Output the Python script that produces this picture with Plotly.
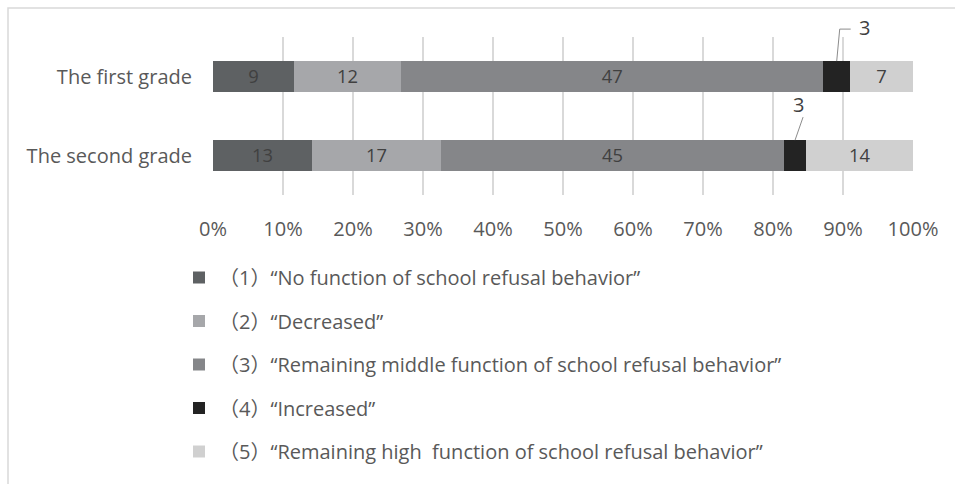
import plotly.graph_objects as go
import numpy as np

categories = ["The first grade", "The second grade"]
series_names = [
    "（1）“No function of school refusal behavior”",
    "（2）“Decreased”",
    "（3）“Remaining middle function of school refusal behavior”",
    "（4）“Increased”",
    "（5）“Remaining high  function of school refusal behavior”",
]
s1 = [9, 13]
s2 = [12, 17]
s3 = [47, 45]
s4 = [3, 3]
s5 = [7, 14]
tick_vals = [0, 10, 20, 30, 40, 50, 60, 70, 80, 90, 100]
tick_text = ["0%", "10%", "20%", "30%", "40%", "50%", "60%", "70%", "80%", "90%", "100%"]

colors = ["#5e6163", "#a6a7aa", "#858689", "#232323", "#d0d0d0"]
FONT = "Open Sans, Noto Sans CJK JP"
TXT = "#595959"
FS = 20

series = [s1, s2, s3, s4, s5]
totals = np.sum(np.array(series), axis=0)
pct = [list(np.array(s) / totals * 100) for s in series]

W, H = 955, 484
ML, MR, MT, MB = 213, 42, 37, 289
PW = W - ML - MR
PH = H - MT - MB
YR = [1.5, -0.5]

def px(xd):  # data x (percent) -> paper x
    return xd / 100.0

def py(yd):  # category coordinate -> paper y
    return (YR[0] - yd) / (YR[0] - YR[1])

fig = go.Figure()
for i, (name, s, p) in enumerate(zip(series_names, series, pct)):
    fig.add_trace(go.Bar(
        y=categories, x=p, orientation="h", name=name,
        marker=dict(color=colors[i], line=dict(width=0)),
        text=[str(v) for v in s],
        textposition="none" if i == 3 else "inside",
        insidetextanchor="middle", textangle=0,
        textfont=dict(family=FONT, size=FS, color="#404040"),
        legendgroup=str(i), hoverinfo="skip",
    ))

bargap = 0.61
half = (1 - bargap) / 2
cum_before = np.array(pct[0]) + np.array(pct[1]) + np.array(pct[2])
x4c = cum_before + np.array(pct[3]) / 2
dpx = 1.0 / PW   # one pixel in paper x
dpy = 1.0 / PH   # one pixel in paper y

shapes = []
annotations = []
# first grade: elbow leader
g = 0
x0p, y0p = px(x4c[g]), py(g - half)
x1p, y1p = x0p + 3 * dpx, y0p + 32 * dpy
x2p = x0p + 14 * dpx
shapes.append(dict(type="path", xref="paper", yref="paper",
                   path=f"M {x0p} {y0p} L {x1p} {y1p} L {x2p} {y1p}",
                   line=dict(color="#8c8c8c", width=1)))
annotations.append(dict(x=x2p, y=y1p, xref="paper", yref="paper", text=str(s4[g]),
                        showarrow=False, xanchor="left", yanchor="middle", xshift=6, yshift=2,
                        font=dict(family=FONT, size=FS, color="#404040")))
# second grade: straight leader
g = 1
x0p, y0p = px(x4c[g]), py(g - half)
x1p, y1p = x0p + 8 * dpx, y0p + 23 * dpy
shapes.append(dict(type="line", xref="paper", yref="paper",
                   x0=x0p, y0=y0p, x1=x1p, y1=y1p,
                   line=dict(color="#8c8c8c", width=1)))
annotations.append(dict(x=x1p, y=y1p, xref="paper", yref="paper", text=str(s4[g]),
                        showarrow=False, yanchor="bottom", yshift=-3, xshift=3,
                        font=dict(family=FONT, size=FS, color="#404040")))

# chart border (top & left visible)
shapes.append(dict(type="rect", xref="paper", yref="paper",
                   x0=(8 - ML) / PW, x1=(W + 10 - ML) / PW,
                   y0=-(H + 10 - MT - PH) / PH, y1=1 + (MT - 8) / PH,
                   line=dict(color="#d9d9d9", width=1.5), fillcolor="rgba(0,0,0,0)",
                   layer="below"))

fig.update_layout(
    width=W, height=H,
    margin=dict(l=ML, r=MR, t=MT, b=MB, pad=0, autoexpand=False),
    barmode="stack", bargap=bargap,
    paper_bgcolor="white", plot_bgcolor="white",
    font=dict(family=FONT, size=FS, color=TXT),
    showlegend=True,
    legend=dict(orientation="v", x=(179 - ML) / PW, xanchor="left",
                y=-(258 - MT - PH) / PH, yanchor="top",
                traceorder="grouped", tracegroupgap=14.5,
                font=dict(family=FONT, size=FS, color=TXT),
                bgcolor="rgba(0,0,0,0)"),
    shapes=shapes, annotations=annotations,
    uniformtext=dict(mode=False),
)
fig.update_xaxes(range=[0, 100], autorange=False, tickvals=tick_vals, ticktext=tick_text,
                 showgrid=True, gridcolor="#d9d9d9", gridwidth=1.5,
                 zeroline=False, showline=False, ticks="",
                 ticklabelstandoff=20, automargin=False,
                 tickfont=dict(family=FONT, size=FS, color=TXT), fixedrange=True)
fig.update_yaxes(range=YR, autorange=False, showgrid=False, showline=False,
                 ticks="", ticklabelstandoff=20, automargin=False,
                 tickfont=dict(family=FONT, size=FS, color=TXT), fixedrange=True)

fig.write_html("out.html")
